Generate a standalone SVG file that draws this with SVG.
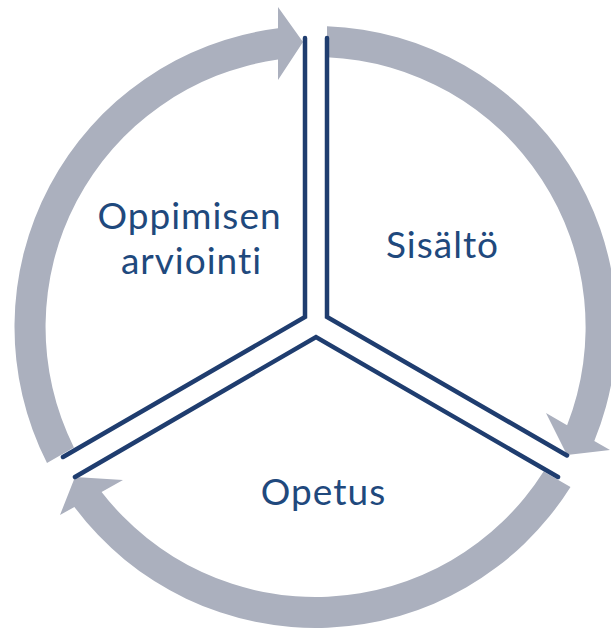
<svg xmlns="http://www.w3.org/2000/svg" width="611" height="630" viewBox="0 0 611 630">
  <style>
    .ring { fill: #ABB0BE; stroke: none; }
    .div { fill: none; stroke: #1F3D6F; stroke-width: 4.5; stroke-linejoin: miter; stroke-linecap: round; }
    .lbl { font-family: Lato, "Open Sans", "Liberation Sans", sans-serif; font-size: 37px; letter-spacing: 1px; fill: #1F497D; text-anchor: middle; }
  </style>
  <rect width="611" height="630" fill="#FFFFFF"/>
  <g id="connectors">
    <path class="ring" d="M327,26.2 A301,301 0 0 1 594.3,440.9 L610,450 L567,455 L546,413 L567.1,425.2 A270,270 0 0 0 327,57.2 Z"/>
    <path class="ring" d="M570.5,486.9 A301,301 0 0 1 74.4,507 L60,515 L75,477 L123,480 L101.6,491.9 A270,270 0 0 0 543.6,471.4 Z"/>
    <path class="ring" d="M47,463 A301,301 0 0 1 278,28.3 L278,7 L303,42 L278,80 L278,59.6 A270,270 0 0 0 73.9,447.4 Z"/>
  </g>
  <g id="dividers">
    <path class="div" d="M305,38 V317 L63,457"/>
    <path class="div" d="M327,38 V317 L567,455.5"/>
    <path class="div" d="M75,477 L316,337 L558,477"/>
  </g>
  <g id="node-arviointi">
    <text class="lbl"><tspan x="189.5" y="228.5">Oppimisen</tspan><tspan x="191.5" y="273.5">arviointi</tspan></text>
  </g>
  <g id="node-sisalto">
    <text class="lbl" x="442.5" y="258">Sisältö</text>
  </g>
  <g id="node-opetus">
    <text class="lbl" x="323.5" y="505">Opetus</text>
  </g>
</svg>
